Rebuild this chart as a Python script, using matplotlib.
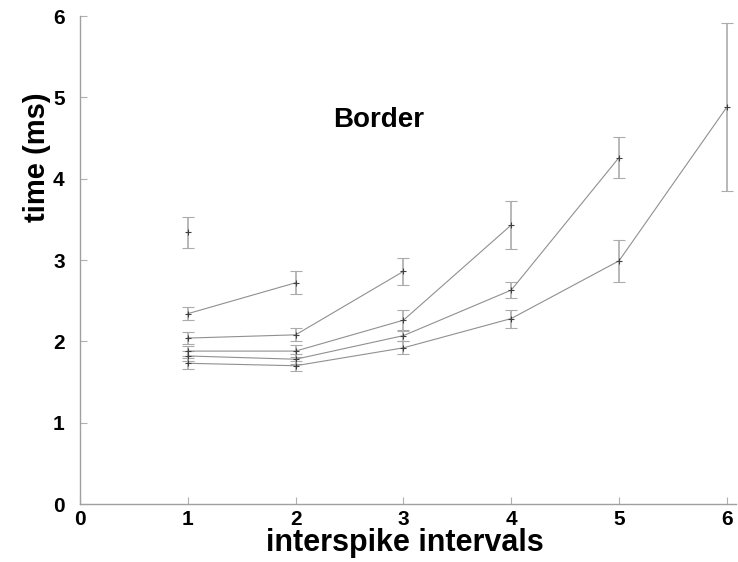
import matplotlib
matplotlib.use("Agg")
import matplotlib.pyplot as plt

plt.rcParams['font.family'] = ['Liberation Sans', 'DejaVu Sans']
plt.rcParams['font.weight'] = 'bold'

# one series per burst length: mean interval time and error
s1_y = [3.34]
s1_e = [0.19]
s2_y = [2.34, 2.72]
s2_e = [0.08, 0.14]
s3_y = [2.04, 2.08, 2.86]
s3_e = [0.07, 0.08, 0.17]
s4_y = [1.88, 1.88, 2.26, 3.43]
s4_e = [0.06, 0.07, 0.12, 0.29]
s5_y = [1.82, 1.78, 2.07, 2.63, 4.26]
s5_e = [0.06, 0.06, 0.06, 0.10, 0.25]
s6_y = [1.73, 1.70, 1.92, 2.28, 2.99, 4.88]
s6_e = [0.07, 0.06, 0.08, 0.11, 0.26, 1.03]

series = [(s1_y, s1_e), (s2_y, s2_e), (s3_y, s3_e),
          (s4_y, s4_e), (s5_y, s5_e), (s6_y, s6_e)]

fig = plt.figure(figsize=(7.38, 5.62), dpi=100)
ax = fig.add_axes([80 / 738, 58 / 562, 656 / 738, 488 / 562])

for ys, es in series:
    xs = list(range(1, len(ys) + 1))
    ax.errorbar(xs, ys, yerr=es, color='#909090', lw=0.8,
                ecolor='#ababab', elinewidth=1.2, capsize=4, capthick=1.0,
                marker='+', ms=4, mec='#404040', mew=0.8)

ax.set_xlim(0, 6.085)
ax.set_ylim(0, 6)
ax.set_xticks(range(0, 7))
ax.set_yticks(range(0, 7))

for side in ['top', 'right']:
    ax.spines[side].set_visible(False)
for side in ['left', 'bottom']:
    ax.spines[side].set_color('#a0a0a0')
    ax.spines[side].set_linewidth(1.0)

ax.tick_params(direction='in', length=5, color='#b0b0b0', labelsize=15)
ax.tick_params(axis='y', pad=11)
ax.tick_params(axis='x', pad=4)

ax.set_xlabel('interspike intervals', fontsize=22, fontweight='bold', va='center')
ax.xaxis.set_label_coords(0.495, -0.08)
ax.set_ylabel('time (ms)', fontsize=21, fontweight='bold', va='center')
ax.yaxis.set_label_coords(-0.066, 0.71)

ax.text(2.77, 4.72, 'Border', fontsize=20, fontweight='bold', ha='center', va='center')

fig.savefig('out.png', dpi=100)
